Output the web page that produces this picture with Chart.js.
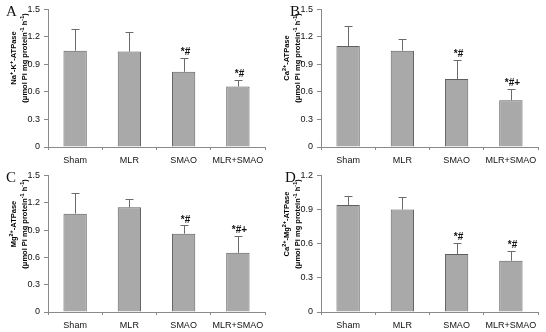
<!DOCTYPE html>
<html><head><meta charset="utf-8">
<script src="https://cdn.jsdelivr.net/npm/chart.js@4"></script>
<style>
html,body{margin:0;padding:0;background:#fff;}
#wrap{position:relative;width:546px;height:332px;}
.p{position:absolute;width:273px;height:166px;}
.lt{position:absolute;font-family:"Liberation Serif","DejaVu Serif",serif;font-size:15px;color:#111;}
</style></head><body>
<div id="wrap">
<div class="p" style="left:0;top:0"><canvas id="cA" width="273" height="166"></canvas></div>
<div class="p" style="left:273px;top:0"><canvas id="cB" width="273" height="166"></canvas></div>
<div class="p" style="left:0;top:166px"><canvas id="cC" width="273" height="166"></canvas></div>
<div class="p" style="left:273px;top:166px"><canvas id="cD" width="273" height="166"></canvas></div>
<div class="lt" style="left:6px;top:3px">A</div>
<div class="lt" style="left:290px;top:3px">B</div>
<div class="lt" style="left:6px;top:169px">C</div>
<div class="lt" style="left:285px;top:169px">D</div>
</div>
<script>
const categories = ["Sham", "MLR", "SMAO", "MLR+SMAO"];

const valuesA = [1.05, 1.04, 0.82, 0.66];
const errorsA = [0.24, 0.21, 0.15, 0.07];
const marksA  = ["", "", "*#", "*#"];

const valuesB = [1.10, 1.05, 0.74, 0.51];
const errorsB = [0.22, 0.13, 0.21, 0.12];
const marksB  = ["", "", "*#", "*#+"];

const valuesC = [1.08, 1.15, 0.86, 0.65];
const errorsC = [0.23, 0.09, 0.09, 0.19];
const marksC  = ["", "", "*#", "*#+"];

const valuesD = [0.94, 0.90, 0.51, 0.45];
const errorsD = [0.08, 0.11, 0.10, 0.09];
const marksD  = ["", "", "*#", "*#"];

const yTicksABC = [0, 0.3, 0.6, 0.9, 1.2, 1.5];
const yTicksD   = [0, 0.3, 0.6, 0.9, 1.2];

// "^{...}" marks superscript text
const unitLine = "(\u03BCmol Pi mg protein^{-1} h^{-1})";
const titleA = ["Na^{+}-K^{+}-ATPase", unitLine];
const titleB = ["Ca^{2+}-ATPase", unitLine];
const titleC = ["Mg^{2+}-ATPase", unitLine];
const titleD = ["Ca^{2+}-Mg^{2+}-ATPase", unitLine];

const FONT = "'Liberation Sans', Arial, sans-serif";

function parseRich(s) {
  const out = [];
  const re = /\^\{([^}]*)\}/g;
  let last = 0, m;
  while ((m = re.exec(s))) {
    if (m.index > last) out.push({ t: s.slice(last, m.index), sup: false });
    out.push({ t: m[1], sup: true });
    last = re.lastIndex;
  }
  if (last < s.length) out.push({ t: s.slice(last), sup: false });
  return out;
}

const errPlugin = {
  id: 'errbars',
  afterDatasetsDraw(chart) {
    const ctx = chart.ctx;
    const meta = chart.getDatasetMeta(0);
    const ys = chart.scales.y;
    const ds = chart.data.datasets[0];
    ctx.save();
    meta.data.forEach((bar, i) => {
      const v = ds.data[i], e = ds.errors[i];
      const x = Math.round(bar.x) + 0.5;
      const y0 = ys.getPixelForValue(v);
      const y1 = ys.getPixelForValue(v + e);
      ctx.strokeStyle = '#6a6a6a';
      ctx.lineWidth = 1;
      ctx.beginPath();
      ctx.moveTo(x, y0);
      ctx.lineTo(x, Math.round(y1) + 0.5);
      ctx.moveTo(x - 4, Math.round(y1) + 0.5);
      ctx.lineTo(x + 4, Math.round(y1) + 0.5);
      ctx.stroke();
      const m = ds.marks[i];
      if (m) {
        ctx.fillStyle = '#111';
        ctx.font = "bold 10px " + FONT;
        ctx.textAlign = 'center';
        ctx.textBaseline = 'bottom';
        ctx.fillText(m, x + 1, y1 - 0.5);
      }
    });
    ctx.restore();
  }
};

const titlePlugin = {
  id: 'ytitle',
  afterDraw(chart, args, opts) {
    const ctx = chart.ctx;
    const lines = opts.lines;
    const size = 7.5, supSize = 5.5;
    ctx.save();
    ctx.fillStyle = '#000';
    ctx.textBaseline = 'alphabetic';
    ctx.textAlign = 'left';
    lines.forEach((line, li) => {
      const segs = parseRich(line);
      let w = 0;
      segs.forEach(sg => {
        ctx.font = "bold " + (sg.sup ? supSize : size) + "px " + FONT;
        sg.w = ctx.measureText(sg.t).width;
        w += sg.w;
      });
      const cx = opts.x[li], cy = opts.cy;
      ctx.save();
      ctx.translate(cx, cy);
      ctx.rotate(-Math.PI / 2);
      let px = -w / 2;
      segs.forEach(sg => {
        ctx.font = "bold " + (sg.sup ? supSize : size) + "px " + FONT;
        ctx.fillText(sg.t, px, sg.sup ? -0.5 : 3);
        px += sg.w;
      });
      ctx.restore();
    });
    ctx.restore();
  }
};

function make(id, values, errors, marks, ticks, title, top, xh, tx) {
  const max = ticks[ticks.length - 1];
  new Chart(document.getElementById(id), {
    type: 'bar',
    data: {
      labels: categories,
      datasets: [{
        data: values, errors: errors, marks: marks,
        backgroundColor: '#a9a9a9',
        borderColor: '#5e5e5e',
        borderWidth: 1,
        barPercentage: 0.43,
        categoryPercentage: 1.0
      }]
    },
    options: {
      responsive: false,
      animation: false,
      devicePixelRatio: 1,
      layout: { padding: { top: top, right: 8, left: 0, bottom: 0 } },
      plugins: {
        legend: { display: false }, tooltip: { enabled: false },
        ytitle: { lines: title, x: tx, cy: 58 }
      },
      scales: {
        x: {
          offset: true,
          afterFit: s => { s.height = xh; },
          grid: { display: true, drawOnChartArea: false, offset: true, tickLength: 3, color: '#8a8a8a' },
          border: { color: '#8a8a8a' },
          ticks: { color: '#111', font: { family: FONT, size: 9 }, padding: 5, maxRotation: 0, autoSkip: false }
        },
        y: {
          min: 0, max: max,
          afterBuildTicks: s => { s.ticks = ticks.map(v => ({ value: v })); },
          afterFit: s => { s.width = 48; },
          grid: { display: true, drawOnChartArea: false, tickLength: 4, color: '#8a8a8a' },
          border: { color: '#8a8a8a' },
          ticks: {
            color: '#111', font: { family: FONT, size: 9 }, padding: 4,
            callback: v => (v === 0 ? '0' : Number(v).toFixed(1))
          }
        }
      }
    },
    plugins: [errPlugin, titlePlugin]
  });
}

make('cA', valuesA, errorsA, marksA, yTicksABC, titleA, 6, 19, [13, 24]);
make('cB', valuesB, errorsB, marksB, yTicksABC, titleB, 6, 19, [13, 24]);
make('cC', valuesC, errorsC, marksC, yTicksABC, titleC, 3, 20, [13, 24]);
make('cD', valuesD, errorsD, marksD, yTicksD, titleD, 5, 20, [13, 24]);
</script>
</body></html>
